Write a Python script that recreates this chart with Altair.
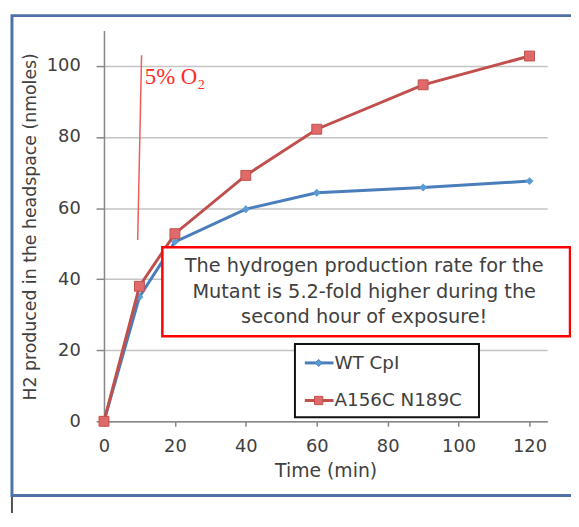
import altair as alt
import pandas as pd

# ---- data ----
time_min = [0, 10, 20, 40, 60, 90, 120]
wt_cpi = [0, 35, 50.5, 59.7, 64.3, 65.8, 67.6]
mutant = [0, 38, 52.8, 69.2, 82.2, 94.7, 102.8]
series = ["WT CpI", "A156C N189C"]
x_ticks = [0, 20, 40, 60, 80, 100, 120]
y_ticks = [0, 20, 40, 60, 80, 100]
o2_x = [10.6, 9.5]
o2_y = [103, 51]
o2_label = "5% O\u2082"
o2_label_pos = [11.5, 96.8]
note_lines = [
    "The hydrogen production rate for the",
    "Mutant is 5.2-fold higher during the",
    "second hour of exposure!",
]

FONT = "DejaVu Sans"
TXT = "#404040"
BLUE_L = "#4a7ebb"
BLUE_M = "#5b9bd5"
RED_L = "#c0504d"
RED_M = "#e06a6a"

df = pd.DataFrame({
    "time": time_min * 2,
    "value": wt_cpi + mutant,
    "series": [series[0]] * len(time_min) + [series[1]] * len(time_min),
})
o2_df = pd.DataFrame({"x": [o2_x[0]], "y": [o2_y[0]], "x2": [o2_x[1]], "y2": [o2_y[1]]})
lab_df = pd.DataFrame({"x": [o2_label_pos[0]], "y": [o2_label_pos[1]], "t": [o2_label]})
one = pd.DataFrame({"a": [0]})

xs = alt.Scale(domain=[0, 125], nice=False)
ys = alt.Scale(domain=[0, 110], nice=False)

x_axis = alt.Axis(values=x_ticks, title="Time (min)", grid=False, labelFlush=False,
                  domainColor="#868686", domainWidth=1.5, tickColor="#868686",
                  tickSize=5, tickWidth=1.5, labelFontSize=18, labelColor=TXT,
                  labelFont=FONT, labelPadding=12, titleFont=FONT, titleFontSize=19,
                  titleColor=TXT, titleFontWeight="normal", titlePadding=6)
y_axis = alt.Axis(values=y_ticks, title="H2 produced in the headspace (nmoles)",
                  grid=True, gridColor="#c4c4c4", gridWidth=1.5, labelFlush=False,
                  domainColor="#868686", domainWidth=1.5, tickColor="#868686",
                  tickSize=8, tickWidth=1.5, labelFontSize=18, labelColor=TXT,
                  labelFont=FONT, labelPadding=16, titleFont=FONT, titleFontSize=17.5,
                  titleColor=TXT, titleFontWeight="normal",
                  titleX=-74, titleY=198, titleAlign="center", titleBaseline="middle")

base = alt.Chart(df)

lower_box = alt.Chart(one).mark_rect(fillOpacity=0, stroke="#505050", strokeWidth=2).encode(
    x=alt.value(-93), x2=alt.value(520), y=alt.value(470), y2=alt.value(540))
frame = alt.Chart(one).mark_rect(fillOpacity=0, stroke="#4f71a8", strokeWidth=3).encode(
    x=alt.value(-93), x2=alt.value(520), y=alt.value(-15), y2=alt.value(470))

wt_line = base.transform_filter(alt.datum.series == series[0]).mark_line(
    color=BLUE_L, strokeWidth=3).encode(
    x=alt.X("time:Q", scale=xs, axis=x_axis),
    y=alt.Y("value:Q", scale=ys, axis=y_axis))
wt_pts = base.transform_filter(alt.datum.series == series[0]).mark_point(
    shape="diamond", filled=True, size=64, color=BLUE_M, opacity=1).encode(
    x=alt.X("time:Q", scale=xs), y=alt.Y("value:Q", scale=ys))
mu_line = base.transform_filter(alt.datum.series == series[1]).mark_line(
    color=RED_L, strokeWidth=3).encode(
    x=alt.X("time:Q", scale=xs), y=alt.Y("value:Q", scale=ys))
mu_pts = base.transform_filter(alt.datum.series == series[1]).mark_point(
    shape="square", filled=True, size=100, fill=RED_M, stroke=RED_L, strokeWidth=1,
    opacity=1).encode(
    x=alt.X("time:Q", scale=xs), y=alt.Y("value:Q", scale=ys))

o2_rule = alt.Chart(o2_df).mark_rule(color="#f25a5a", strokeWidth=1.5).encode(
    x=alt.X("x:Q", scale=xs), y=alt.Y("y:Q", scale=ys),
    x2="x2:Q", y2="y2:Q")
o2_text = alt.Chart(lab_df).mark_text(
    font="Liberation Serif", fontSize=23, color="#ff2a2a", align="left",
    baseline="middle").encode(
    x=alt.X("x:Q", scale=xs), y=alt.Y("y:Q", scale=ys), text="t:N")

note_box = alt.Chart(one).mark_rect(fill="white", stroke="#ff0000", strokeWidth=2.5).encode(
    x=alt.value(59), x2=alt.value(471), y=alt.value(219), y2=alt.value(309))
note_text = alt.Chart(one).mark_text(
    font=FONT, fontSize=19.5, color=TXT, align="center", baseline="middle",
    lineHeight=26).encode(
    x=alt.value(263), y=alt.value(238), text=alt.value(note_lines))

leg_box = alt.Chart(one).mark_rect(fill="white", stroke="#111111", strokeWidth=2).encode(
    x=alt.value(193), x2=alt.value(379), y=alt.value(317), y2=alt.value(391))
leg_layers = []
for name, ly, lc, mc, shp, sz in [(series[0], 336, BLUE_L, BLUE_M, "diamond", 50),
                                  (series[1], 374, RED_L, RED_M, "square", 70)]:
    leg_layers.append(alt.Chart(one).mark_rule(color=lc, strokeWidth=3).encode(
        x=alt.value(203), x2=alt.value(232), y=alt.value(ly)))
    leg_layers.append(alt.Chart(one).mark_point(
        shape=shp, filled=True, size=sz, fill=mc, stroke=lc, strokeWidth=1, opacity=1).encode(
        x=alt.value(217), y=alt.value(ly)))
    leg_layers.append(alt.Chart(one).mark_text(
        font=FONT, fontSize=18.5, color=TXT, align="left", baseline="middle").encode(
        x=alt.value(233), y=alt.value(ly), text=alt.value(name)))

chart = alt.layer(
    lower_box, frame, wt_line, wt_pts, mu_line, mu_pts, o2_rule, o2_text,
    note_box, note_text, leg_box, *leg_layers
).properties(
    width=448, height=395,
    padding={"left": 97, "top": 20, "right": 24, "bottom": 90},
    autosize=alt.AutoSizeParams(type="none"),
    background="white",
).configure_view(stroke=None)

chart.save("out.html", embed_options={"renderer": "svg", "actions": False})
